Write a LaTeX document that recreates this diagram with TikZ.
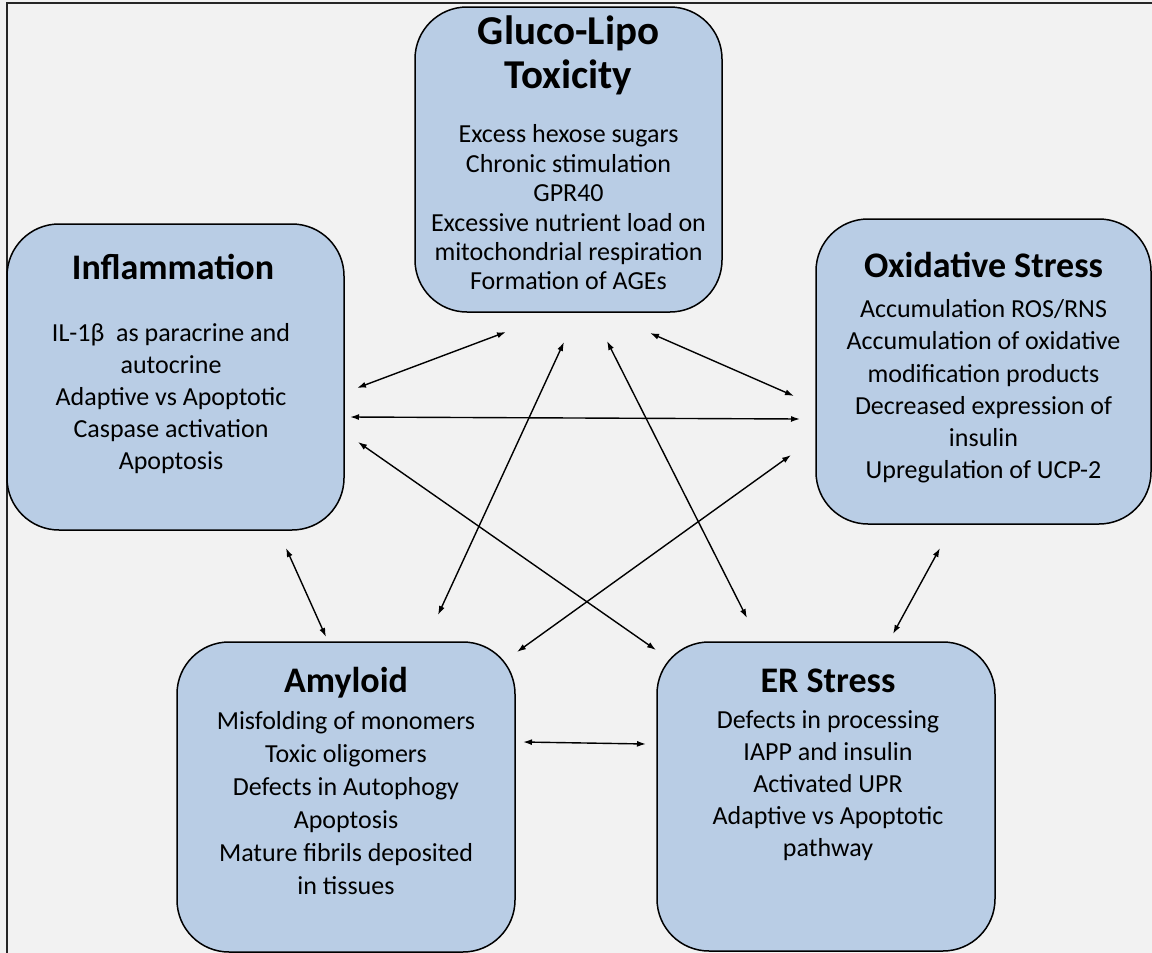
\documentclass[tikz,border=0pt]{standalone}
\usepackage{fontspec}
\setmainfont{Carlito}
\usetikzlibrary{arrows.meta}
\definecolor{bgc}{HTML}{F2F2F2}
\definecolor{boxc}{HTML}{B9CDE5}
\begin{document}
\begin{tikzpicture}[x=1pt,y=-1pt,
  box/.style={draw=black, line width=1.5pt, fill=boxc, rounded corners=52pt, inner sep=0pt, outer sep=0pt},
  ttl/.style={font=\fontsize{36}{43}\selectfont\bfseries, anchor=base, inner sep=0pt},
  body/.style={font=\fontsize{26}{32}\selectfont, align=center, anchor=center, inner sep=0pt},
  link/.style={line width=1.4pt, {Latex[length=9pt,width=6pt]}-{Latex[length=9pt,width=6pt]}}]
\useasboundingbox (0,0) rectangle (1152,953);
\fill[bgc] (0,0) rectangle (1152,953);
\draw[line width=2pt, black!85] (7,953) -- (7,3) -- (1152,3);

% boxes
\node[box, minimum width=307pt, minimum height=305pt] (gl) at (568.5,159.5) {};
\node[box, minimum width=337pt, minimum height=306pt] (infl) at (175.5,377) {};
\node[box, minimum width=335pt, minimum height=305pt] (ox) at (983.5,371.5) {};
\node[box, minimum width=338pt, minimum height=310pt] (amy) at (346,797) {};
\node[box, minimum width=338pt, minimum height=309pt] (er) at (826,796.5) {};

% titles
\node[ttl, font=\fontsize{41}{43}\selectfont\bfseries] (glt1) at (568.5,44) {Gluco-Lipo};
\node[ttl, font=\fontsize{41}{43}\selectfont\bfseries] (glt2) at (568.5,88) {Toxicity};
\node[ttl] (inflt) at (173,279) {Inflammation};
\node[ttl] (oxt) at (983.5,277) {Oxidative Stress};
\node[ttl] (amyt) at (346,692) {Amyloid};
\node[ttl] (ert) at (828,692) {ER Stress};

% bodies
\node[body, font=\fontsize{26}{29.4}\selectfont] (glb) at (568.5,207.5) {Excess hexose sugars\\Chronic stimulation\\GPR40\\Excessive nutrient load on\\mitochondrial respiration\\Formation of AGEs};
\node[body] (inflb) at (171,399) {IL-1β\ \ as paracrine and\\autocrine\\Adaptive vs Apoptotic\\Caspase activation\\Apoptosis};
\node[body, font=\fontsize{26}{32.2}\selectfont] (oxb) at (983.5,391.5) {Accumulation ROS/RNS\\Accumulation of oxidative\\modification products\\Decreased expression of\\insulin\\Upregulation of UCP-2};
\node[body, font=\fontsize{26}{33}\selectfont] (amyb) at (346,803.5) {Misfolding of monomers\\Toxic oligomers\\Defects in Autophogy\\Apoptosis\\Mature fibrils deposited\\in tissues};
\node[body] (erb) at (828,785.5) {Defects in processing\\IAPP and insulin\\Activated UPR\\Adaptive vs Apoptotic\\pathway};

% connector end points
\coordinate (c1a) at (357,388); \coordinate (c1b) at (506,332);
\coordinate (c2a) at (350,417); \coordinate (c2b) at (800,419);
\coordinate (c3a) at (358,442); \coordinate (c3b) at (656,650);
\coordinate (c4a) at (650,333); \coordinate (c4b) at (794,396);
\coordinate (c5a) at (564,342); \coordinate (c5b) at (438,615);
\coordinate (c6a) at (607,341); \coordinate (c6b) at (747,618);
\coordinate (c7a) at (791,455); \coordinate (c7b) at (517,652);
\coordinate (c8a) at (286,548); \coordinate (c8b) at (326,637);
\coordinate (c9a) at (940,548); \coordinate (c9b) at (893,634);
\coordinate (c10a) at (523,742); \coordinate (c10b) at (646,744);

\draw[link] (c1a) -- (c1b);
\draw[link] (c2a) -- (c2b);
\draw[link] (c3a) -- (c3b);
\draw[link] (c4a) -- (c4b);
\draw[link] (c5a) -- (c5b);
\draw[link] (c6a) -- (c6b);
\draw[link] (c7a) -- (c7b);
\draw[link] (c8a) -- (c8b);
\draw[link] (c9a) -- (c9b);
\draw[link] (c10a) -- (c10b);
\end{tikzpicture}
\end{document}
